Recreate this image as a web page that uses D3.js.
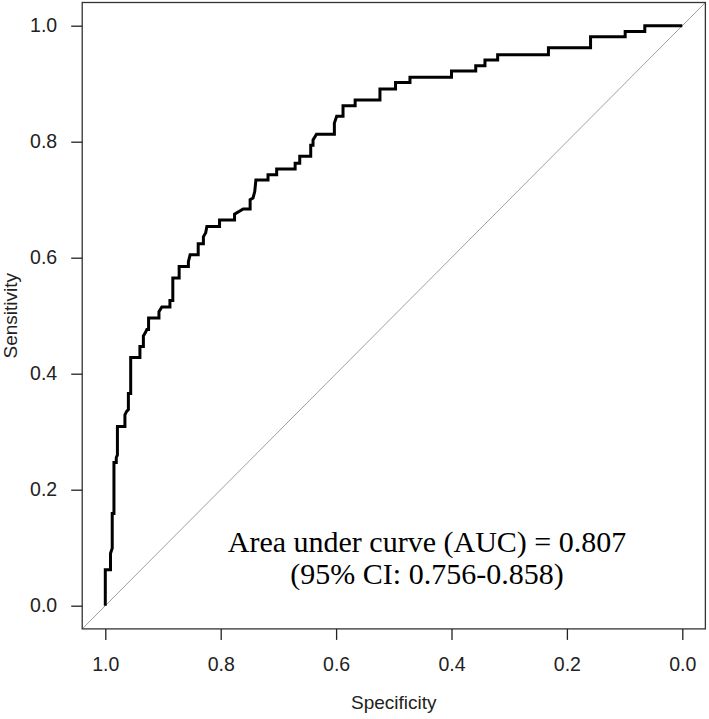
<!DOCTYPE html>
<html>
<head>
<meta charset="utf-8">
<script src="https://cdn.jsdelivr.net/npm/d3@7"></script>
<style>
  html, body { margin: 0; padding: 0; background: #fff; }
  svg { display: block; }
</style>
</head>
<body>
<svg id="chart" width="709" height="719"></svg>
<script>
// ROC curve vertices (specificity, sensitivity)
const specificity = [
  1.000, 1.000, 0.991, 0.991, 0.988, 0.988, 0.985, 0.985, 0.981, 0.981,
  0.979, 0.979, 0.966, 0.966, 0.963, 0.960, 0.960, 0.956, 0.956, 0.940,
  0.940, 0.934, 0.934, 0.931, 0.928, 0.925, 0.925, 0.907, 0.907, 0.902,
  0.888, 0.888, 0.883, 0.883, 0.872, 0.872, 0.856, 0.856, 0.853, 0.839,
  0.839, 0.830, 0.830, 0.826, 0.824, 0.802, 0.802, 0.776, 0.776, 0.761,
  0.749, 0.749, 0.744, 0.741, 0.739, 0.718, 0.718, 0.703, 0.703, 0.671,
  0.671, 0.663, 0.663, 0.644, 0.644, 0.640, 0.640, 0.634, 0.603, 0.603,
  0.599, 0.588, 0.588, 0.567, 0.567, 0.524, 0.524, 0.497, 0.497, 0.472,
  0.472, 0.400, 0.400, 0.358, 0.358, 0.342, 0.342, 0.320, 0.320, 0.232,
  0.232, 0.159, 0.159, 0.099, 0.099, 0.065, 0.065, 0.000
];
const sensitivity = [
  0.000, 0.062, 0.062, 0.090, 0.099, 0.159, 0.159, 0.247, 0.247, 0.255,
  0.260, 0.309, 0.309, 0.329, 0.335, 0.338, 0.366, 0.366, 0.428, 0.428,
  0.447, 0.447, 0.465, 0.470, 0.476, 0.476, 0.496, 0.496, 0.507, 0.515,
  0.515, 0.526, 0.526, 0.565, 0.565, 0.585, 0.585, 0.593, 0.605, 0.605,
  0.624, 0.624, 0.636, 0.643, 0.654, 0.654, 0.665, 0.665, 0.675, 0.684,
  0.684, 0.700, 0.703, 0.714, 0.734, 0.734, 0.743, 0.743, 0.753, 0.753,
  0.763, 0.763, 0.775, 0.775, 0.794, 0.794, 0.803, 0.813, 0.813, 0.832,
  0.844, 0.844, 0.862, 0.862, 0.872, 0.872, 0.891, 0.891, 0.902, 0.902,
  0.911, 0.911, 0.922, 0.922, 0.931, 0.931, 0.941, 0.941, 0.950, 0.950,
  0.962, 0.962, 0.981, 0.981, 0.990, 0.990, 1.000, 1.000
];
const xTicks = [1.0, 0.8, 0.6, 0.4, 0.2, 0.0];
const yTicks = [0.0, 0.2, 0.4, 0.6, 0.8, 1.0];
const xLabel = "Specificity";
const yLabel = "Sensitivity";
const annotation = ["Area under curve (AUC) = 0.807", "(95% CI: 0.756-0.858)"];

const svg = d3.select("#chart");
const x = d3.scaleLinear().domain([1, 0]).range([105.3, 682.3]);
const y = d3.scaleLinear().domain([0, 1]).range([605.7, 25.7]);

const x0 = x(1.04), x1 = x(-0.04), y0 = y(-0.04), y1 = y(1.04);

// diagonal reference line (corner to corner)
svg.append("line")
  .attr("x1", x(1.04)).attr("y1", y(-0.04))
  .attr("x2", x(-0.04)).attr("y2", y(1.04))
  .attr("stroke", "#a0a0a0").attr("stroke-width", 1);

// ROC curve
const pts = specificity.map((s, i) => [s, sensitivity[i]]);
svg.append("path")
  .datum(pts)
  .attr("fill", "none")
  .attr("stroke", "#000")
  .attr("stroke-width", 3)
  .attr("stroke-linejoin", "miter")
  .attr("d", d3.line().x(d => x(d[0])).y(d => y(d[1])));

// box
svg.append("rect")
  .attr("x", x0).attr("y", y1)
  .attr("width", x1 - x0).attr("height", y0 - y1)
  .attr("fill", "none").attr("stroke", "#333").attr("stroke-width", 1.3);

// axes
const fmt = d3.format(".1f");
const xAxis = svg.append("g")
  .attr("transform", `translate(0,${y0})`)
  .call(d3.axisBottom(x).tickValues(xTicks).tickFormat(fmt).tickSize(11).tickPadding(17));
const yAxis = svg.append("g")
  .attr("transform", `translate(${x0},0)`)
  .call(d3.axisLeft(y).tickValues(yTicks).tickFormat(fmt).tickSize(11).tickPadding(14));
[xAxis, yAxis].forEach(g => {
  g.select(".domain").remove();
  g.selectAll(".tick line").attr("stroke", "#222").attr("stroke-width", 1.3);
  g.selectAll(".tick text")
    .attr("fill", "#222")
    .style("font-family", "'Liberation Sans', Arial, sans-serif")
    .style("font-size", "19.5px");
});

// axis titles
svg.append("text")
  .attr("x", (x0 + x1) / 2).attr("y", 709)
  .attr("text-anchor", "middle")
  .style("font-family", "'Liberation Sans', Arial, sans-serif")
  .style("font-size", "19px").attr("fill", "#222")
  .text(xLabel);
svg.append("text")
  .attr("transform", `translate(17,${(y0 + y1) / 2}) rotate(-90)`)
  .attr("text-anchor", "middle")
  .style("font-family", "'Liberation Sans', Arial, sans-serif")
  .style("font-size", "19px").attr("fill", "#222")
  .text(yLabel);

// annotation
svg.selectAll("text.ann")
  .data(annotation)
  .enter().append("text")
  .attr("class", "ann")
  .attr("x", 427)
  .attr("y", (d, i) => 552 + i * 32)
  .attr("text-anchor", "middle")
  .style("font-family", "'Liberation Serif', 'Times New Roman', serif")
  .style("font-size", "30px").attr("fill", "#000")
  .text(d => d);
</script>
</body>
</html>
